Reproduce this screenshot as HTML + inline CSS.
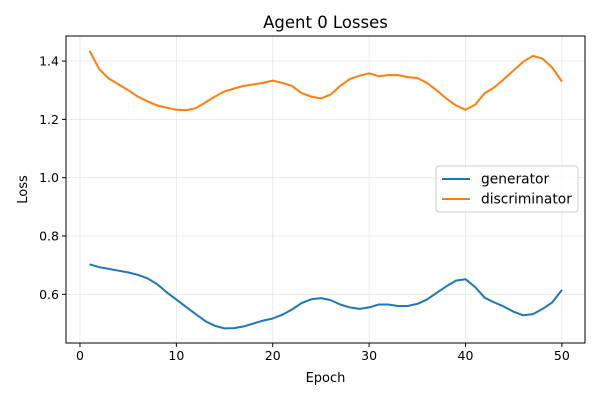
<!DOCTYPE html>
<html><head><meta charset="utf-8"><style>
body{margin:0;background:#fff;}
text{font-family:"DejaVu Sans","Liberation Sans",sans-serif;}
</style></head><body>
<svg id="chart" width="600" height="400" xmlns="http://www.w3.org/2000/svg">
<rect width="600" height="400" fill="#fff"/>
<text x="325.5" y="28" text-anchor="middle" font-size="16.5">Agent 0 Losses</text>
<g id="grid"></g>
<g id="series"></g>
<rect x="66" y="36" width="519" height="307" fill="none" stroke="#000" stroke-width="1"/>
<g id="axes"></g>
<text x="325.5" y="382" text-anchor="middle" font-size="13">Epoch</text>
<text x="27" y="189.5" text-anchor="middle" font-size="13" transform="rotate(-90 27 189.5)">Loss</text>
<g>
<rect x="436" y="166" width="142" height="46" rx="3" fill="#fff" fill-opacity="0.8" stroke="#ccc"/>
<line x1="442" y1="179" x2="470" y2="179" stroke="#1f77b4" stroke-width="2"/>
<text x="481" y="183.5" font-size="13.8">generator</text>
<line x1="442" y1="199" x2="470" y2="199" stroke="#ff7f0e" stroke-width="2"/>
<text x="481" y="203.5" font-size="13.8">discriminator</text>
</g>
</svg>
<script>
const generator=[0.703,0.693,0.687,0.681,0.675,0.667,0.655,0.635,0.607,0.582,0.557,0.532,0.508,0.492,0.483,0.484,0.49,0.50,0.51,0.517,0.53,0.548,0.57,0.583,0.587,0.58,0.565,0.555,0.55,0.555,0.565,0.565,0.56,0.56,0.567,0.582,0.605,0.627,0.647,0.652,0.625,0.588,0.572,0.558,0.54,0.528,0.532,0.55,0.572,0.615];
const discriminator=[1.435,1.372,1.34,1.32,1.30,1.278,1.262,1.248,1.24,1.233,1.232,1.238,1.258,1.278,1.296,1.306,1.315,1.32,1.325,1.333,1.325,1.315,1.29,1.278,1.272,1.285,1.315,1.338,1.35,1.358,1.348,1.352,1.352,1.345,1.342,1.325,1.30,1.272,1.248,1.233,1.25,1.29,1.31,1.338,1.368,1.398,1.418,1.408,1.378,1.33];
const xTicks=[0,10,20,30,40,50];
const yTicks=[0.6,0.8,1.0,1.2,1.4];
const yTickLabels=["0.6","0.8","1.0","1.2","1.4"];
const NS="http://www.w3.org/2000/svg";
const L=66,R=585,T=36,B=343,xMin=-1.45,xMax=52.4,yMin=0.433,yMax=1.486;
const sx=v=>L+(v-xMin)/(xMax-xMin)*(R-L);
const sy=v=>B-(v-yMin)/(yMax-yMin)*(B-T);
function mk(tag,attrs,parent){const e=document.createElementNS(NS,tag);for(const k in attrs)e.setAttribute(k,attrs[k]);parent.appendChild(e);return e;}
const grid=document.getElementById('grid'),axes=document.getElementById('axes'),series=document.getElementById('series');
xTicks.forEach(t=>{const x=sx(t);
 const g=mk('line',{x1:x,x2:x,y1:T,y2:B,stroke:'#e6e6e6','stroke-width':0.8},grid);
 
 
 const tk=mk('line',{x1:x,x2:x,y1:B,y2:B+4,stroke:'#000'},axes);
 
 
 const lb=mk('text',{x:x,y:B+17,'text-anchor':'middle','font-size':12.5},axes);lb.textContent=t;
 
 
});
yTicks.forEach((t,i)=>{const y=sy(t);
 const g=mk('line',{x1:L,x2:R,y1:y,y2:y,stroke:'#e6e6e6','stroke-width':0.8},grid);
 
 
 const tk=mk('line',{x1:L-4,x2:L,y1:y,y2:y,stroke:'#000'},axes);
 
 
 const lb=mk('text',{x:L-7,y:y+4.5,'text-anchor':'end','font-size':12.5},axes);lb.textContent=yTickLabels[i];
 
 
});
function line(data,color,name){
 const pts=data.map((v,i)=>sx(i+1).toFixed(1)+','+sy(v).toFixed(1)).join(' ');
 const p=mk('polyline',{points:pts,fill:'none',stroke:color,'stroke-width':2,'stroke-linejoin':'round'},series);
 
 
}
line(generator,'#1f77b4','generator-line');
line(discriminator,'#ff7f0e','discriminator-line');
</script>
</body></html>
